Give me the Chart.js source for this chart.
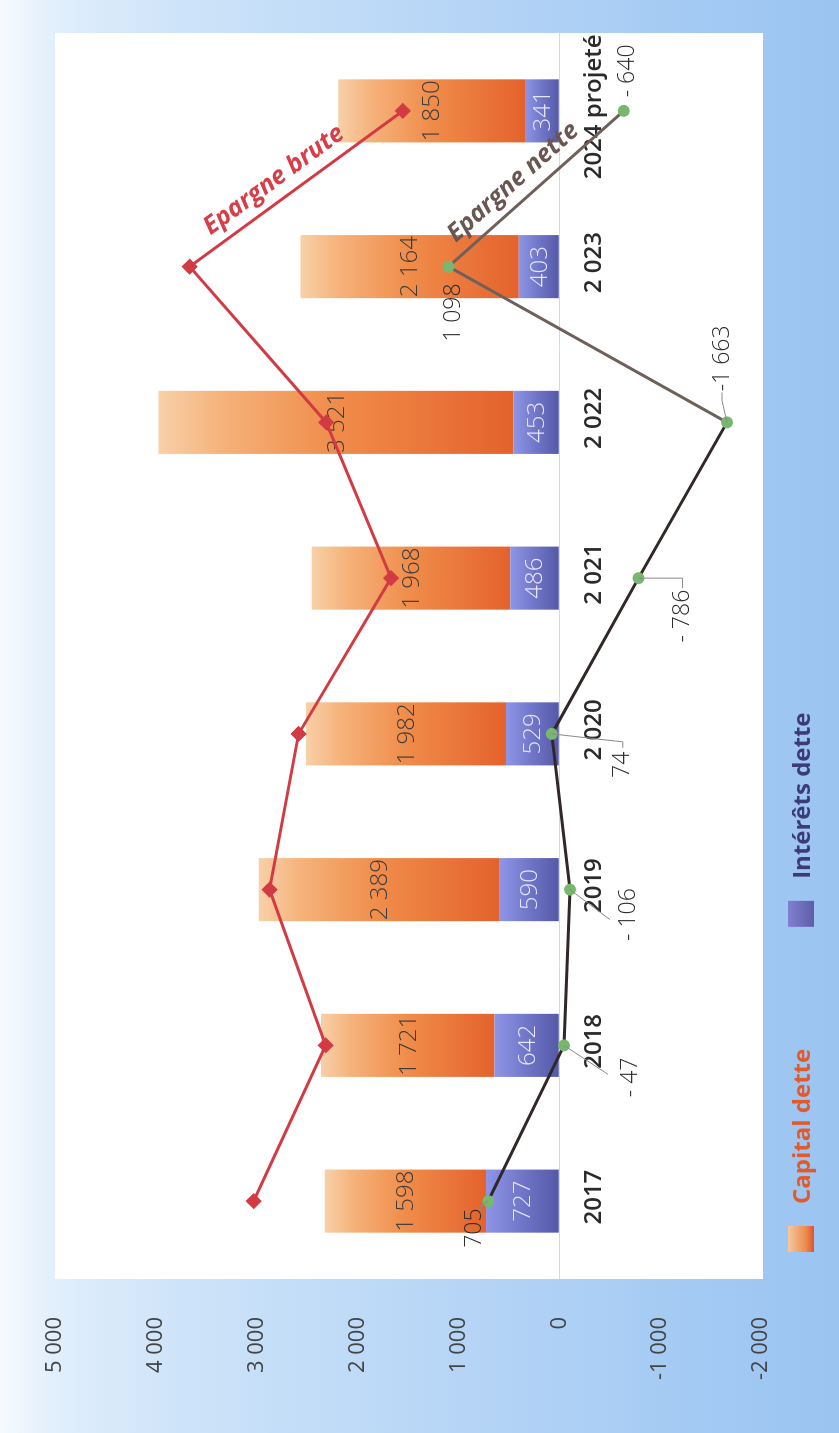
<!DOCTYPE html>
<html lang="fr">
<head>
<meta charset="utf-8">
<title>Epargne et dette</title>
<script src="https://cdn.jsdelivr.net/npm/chart.js@4.4.1/dist/chart.umd.min.js"></script>
<style>
  html, body { margin: 0; padding: 0; width: 839px; height: 1433px; overflow: hidden; background: #ffffff; }
  /* The chart is laid out landscape (1433 x 839) and turned a quarter turn to stand on the page. */
  #frame {
    position: absolute; left: 0; top: 0;
    width: 1433px; height: 839px;
    transform-origin: 0 0;
    transform: translateY(1433px) rotate(-90deg);
    background: linear-gradient(to bottom, #f7fbff 0%, #e2effc 6%, #cde3f9 22%, #b6d5f6 55%, #a2c9f3 85%, #9bc4f1 100%);
  }
  canvas { display: block; }
</style>
</head>
<body>
<div id="frame"><canvas id="chart" width="1433" height="839"></canvas></div>
<script>
// ---- data ----
const categories = ['2017', '2018', '2019', '2 020', '2 021', '2 022', '2 023', '2024 projeté'];
const interetsDette = [727, 642, 590, 529, 486, 453, 403, 341];
const capitalDette = [1598, 1721, 2389, 1982, 1968, 3521, 2164, 1850];
const epargneBrute = [3030, 2316, 2873, 2585, 1668, 2311, 3665, 1551];
const epargneNette = [705, -47, -106, 74, -786, -1663, 1098, -640];
const valueTicks = [5000, 4000, 3000, 2000, 1000, 0, -1000, -2000];

// Where each "Epargne nette" value sits relative to its point, with an optional leader line.
const netteLabelPlacement = [
  { dx: -27, dy: -14, lead: [[-5, -8], [-12, -8]] },
  { dx: -32, dy: 66, lead: [[-29, 44]] },
  { dx: -25, dy: 58, lead: [[-30, 40]] },
  { dx: -31, dy: 71, lead: [[-8, 71], [-14, 71]] },
  { dx: -38, dy: 44, lead: [[0, 44], [-10, 44]] },
  { dx: 64, dy: -5, lead: [[22, -5], [30, -5]] },
  { dx: -46, dy: 5, lead: null },
  { dx: 40, dy: 4, lead: null }
];

// ---- formatting ----
function group(n) {
  return String(Math.abs(Math.round(n))).replace(/\B(?=(\d{3})+(?!\d))/g, ' ');
}
function tickText(v) { return (v < 0 ? '-' : '') + group(v); }
function netText(v) {
  if (v >= 0) return group(v);
  return (Math.abs(v) >= 1000 ? '-' : '- ') + group(v);
}

// ---- fills: each bar segment shades along its own length ----
function segmentGradient(context, lowValue, highValue, stops, fallback) {
  const chart = context.chart;
  if (!chart.chartArea || context.type !== 'data') return fallback;
  const y = chart.scales.y;
  const i = context.dataIndex;
  const top = y.getPixelForValue(highValue(i));
  const base = y.getPixelForValue(lowValue(i));
  if (!isFinite(top) || !isFinite(base) || top === base) return fallback;
  const g = chart.ctx.createLinearGradient(0, top, 0, base);
  stops.forEach(([o, c]) => g.addColorStop(o, c));
  return g;
}
const orangeStops = [[0, '#f8d0a8'], [0.18, '#f5b27a'], [0.5, '#f08c4a'], [1, '#e4622c']];
const blueStops = [[0, '#8e95e6'], [0.5, '#7075c8'], [1, '#5558a6']];

// ---- plugins ----
const plotPanel = {
  id: 'plotPanel',
  beforeDraw(chart) {
    const { ctx, chartArea: a } = chart;
    ctx.save();
    ctx.fillStyle = '#ffffff';
    ctx.fillRect(a.left, a.top, a.right - a.left, a.bottom - a.top + 2);
    ctx.restore();
  }
};

const categoryLabels = {
  id: 'categoryLabels',
  beforeDatasetsDraw(chart) {
    const { ctx } = chart;
    const x = chart.scales.x, y = chart.scales.y;
    const y0 = y.getPixelForValue(0);
    ctx.save();
    ctx.font = '600 24px "Open Sans", sans-serif';
    ctx.fillStyle = '#2b2b2b';
    ctx.textAlign = 'center';
    ctx.textBaseline = 'middle';
    categories.forEach((c, i) => ctx.fillText(c, x.getPixelForValue(i) + 4, y0 + 35));
    ctx.restore();
  }
};

const barValueLabels = {
  id: 'barValueLabels',
  afterDatasetDraw(chart, args) {
    const ds = chart.data.datasets[args.index];
    if (ds.type !== 'bar') return;
    const { ctx } = chart;
    ctx.save();
    ctx.font = '300 24px "Open Sans", sans-serif';
    ctx.fillStyle = ds.valueColor;
    ctx.textAlign = 'center';
    ctx.textBaseline = 'middle';
    args.meta.data.forEach((el, i) => {
      ctx.fillText(group(ds.data[i]), el.x, (el.y + el.base) / 2 + 1);
    });
    ctx.restore();
  }
};

const netteLabels = {
  id: 'netteLabels',
  afterDatasetsDraw(chart) {
    const idx = chart.data.datasets.findIndex(d => d.id === 'nette');
    const meta = chart.getDatasetMeta(idx);
    const { ctx } = chart;
    ctx.save();
    ctx.strokeStyle = '#8a8a8a';
    ctx.lineWidth = 1;
    ctx.font = '300 23px "Open Sans", sans-serif';
    ctx.fillStyle = '#2e2e2e';
    ctx.textAlign = 'center';
    ctx.textBaseline = 'middle';
    meta.data.forEach((pt, i) => {
      const p = netteLabelPlacement[i];
      if (p.lead) {
        ctx.beginPath();
        ctx.moveTo(pt.x, pt.y);
        p.lead.forEach(([lx, ly]) => ctx.lineTo(pt.x + lx, pt.y + ly));
        ctx.stroke();
      }
      ctx.fillText(netText(epargneNette[i]), pt.x + p.dx, pt.y + p.dy);
    });
    ctx.restore();
  }
};

const lineNames = {
  id: 'lineNames',
  afterDatasetsDraw(chart) {
    const { ctx } = chart;
    chart.data.datasets.forEach((ds, di) => {
      if (ds.type !== 'line') return;
      const pts = chart.getDatasetMeta(di).data;
      const a = pts[pts.length - 2], b = pts[pts.length - 1];
      const ang = Math.atan2(b.y - a.y, b.x - a.x);
      const ux = Math.cos(ang), uy = Math.sin(ang);
      const px = uy, py = -ux;                // side facing up the value axis
      const mx = (a.x + b.x) / 2 - 13 * ux + 20 * px;
      const my = (a.y + b.y) / 2 - 13 * uy + 20 * py;
      ctx.save();
      ctx.translate(mx, my);
      ctx.rotate(ang);
      ctx.font = 'italic 700 25px "Open Sans", sans-serif';
      ctx.fillStyle = ds.nameColor;
      ctx.textAlign = 'center';
      ctx.textBaseline = 'middle';
      ctx.fillText(ds.label, 0, 0);
      ctx.restore();
    });
  }
};

const legendRow = {
  id: 'legendRow',
  afterDraw(chart) {
    const { ctx, chartArea } = chart;
    const order = ['capital', 'interets'];
    let x = chartArea.left + 27;
    const cy = chartArea.bottom + 40;
    ctx.save();
    ctx.font = '700 24px "Open Sans", sans-serif';
    ctx.textBaseline = 'middle';
    ctx.textAlign = 'left';
    order.forEach(id => {
      const ds = chart.data.datasets.find(d => d.id === id);
      const g = ctx.createLinearGradient(0, cy - 13, 0, cy + 13);
      ds.swatch.forEach(([o, c]) => g.addColorStop(o, c));
      ctx.fillStyle = g;
      ctx.fillRect(x, cy - 13, 26, 26);
      x += 26 + 22;
      ctx.fillStyle = ds.legendColor;
      ctx.fillText(ds.label, x, cy + 2);
      x += ctx.measureText(ds.label).width + 122;
    });
    ctx.restore();
  }
};

// ---- chart ----
new Chart(document.getElementById('chart'), {
  type: 'bar',
  data: {
    labels: categories,
    datasets: [
      {
        id: 'interets', type: 'bar', label: 'Intérêts dette', data: interetsDette,
        stack: 'dette', order: 2,
        backgroundColor: c => segmentGradient(c, () => 0, i => interetsDette[i], blueStops, '#6f74c6'),
        borderWidth: 0, valueColor: '#e6e6fb',
        swatch: [[0, '#8080d0'], [1, '#5d5ea8']], legendColor: '#3b3b78'
      },
      {
        id: 'capital', type: 'bar', label: 'Capital dette', data: capitalDette,
        stack: 'dette', order: 2,
        backgroundColor: c => segmentGradient(c, i => interetsDette[i], i => interetsDette[i] + capitalDette[i], orangeStops, '#ee8a48'),
        borderWidth: 0, valueColor: '#3c3c3c',
        swatch: [[0, '#f6c8a0'], [0.7, '#ec8a4c'], [1, '#e0502e']], legendColor: '#e25a2c'
      },
      {
        id: 'brute', type: 'line', label: 'Epargne brute', data: epargneBrute,
        stack: 'brute', order: 1,
        borderColor: '#d23a44', borderWidth: 3,
        pointStyle: 'rectRot', pointRadius: 6, pointBackgroundColor: '#d23a44', pointBorderColor: '#d23a44',
        nameColor: '#d83e48', tension: 0
      },
      {
        id: 'nette', type: 'line', label: 'Epargne nette', data: epargneNette,
        stack: 'nette', order: 0,
        borderColor: '#2f2826', borderWidth: 3,
        segment: { borderColor: s => (s.p0DataIndex >= 5 ? '#6f605b' : '#2f2826') },
        pointStyle: 'circle', pointRadius: 4.5, pointBackgroundColor: '#78b86e', pointBorderColor: '#78b86e',
        nameColor: '#6b5752', tension: 0
      }
    ]
  },
  options: {
    responsive: false,
    animation: false,
    devicePixelRatio: 1,
    layout: { padding: { top: 55, right: 33, bottom: 78, left: 0 } },
    datasets: { bar: { categoryPercentage: 1, barPercentage: 0.405 } },
    plugins: { legend: { display: false }, tooltip: { enabled: false } },
    scales: {
      x: { type: 'category', stacked: true, display: false, offset: true },
      y: {
        stacked: true,
        min: Math.min(...valueTicks),
        max: Math.max(...valueTicks),
        afterFit: s => { s.width = 154; },
        ticks: {
          stepSize: valueTicks[0] - valueTicks[1],
          padding: 38,
          color: '#444444',
          font: { family: '"Open Sans", sans-serif', size: 22, weight: '400' },
          callback: v => tickText(v)
        },
        grid: {
          drawTicks: false,
          lineWidth: 1,
          color: c => (c.tick && c.tick.value === 0 ? '#d2d9e2' : 'rgba(0,0,0,0)')
        },
        border: { display: false }
      }
    }
  },
  plugins: [plotPanel, categoryLabels, barValueLabels, netteLabels, lineNames, legendRow]
});
</script>
</body>
</html>
